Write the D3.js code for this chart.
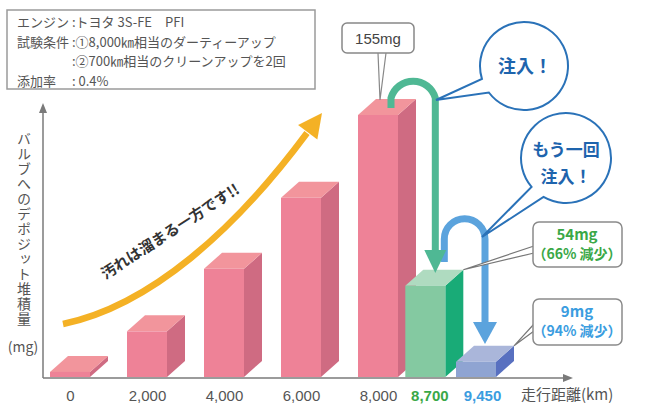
<!DOCTYPE html>
<html><head><meta charset="utf-8">
<script src="https://cdn.jsdelivr.net/npm/d3@7"></script>
<style>
html,body{margin:0;padding:0;background:#fff;}
svg{display:block;font-family:"Noto Sans CJK JP","Noto Sans",sans-serif;}
</style></head>
<body>
<svg id="chart" width="668" height="407"></svg>
<script>
// ---- data ----
const categories = ["0", "2,000", "4,000", "6,000", "8,000", "8,700", "9,450"];
const distanceKm = [0, 2000, 4000, 6000, 8000, 8700, 9450];
const depositMg = [3, 27, 64, 106, 155, 54, 9];
const phases = ["dirty", "dirty", "dirty", "dirty", "dirty", "clean1", "clean2"];
const infoLabels = ["エンジン", "試験条件", "", "添加率"];
const infoValues = [":トヨタ 3S-FE　PFI", ":①8,000㎞相当のダーティーアップ", ":②700㎞相当のクリーンアップを2回", ": 0.4%"];
const yAxisTitle = "バルブへのデポジット堆積量";
const yAxisUnit = "(mg)";
const xAxisTitle = "走行距離(km)";
const peakLabel = "155mg";
const result1 = ["54mg", "（66% 減少）"];
const result2 = ["9mg", "（94% 減少）"];
const bubble1 = ["注入！"];
const bubble2 = ["もう一回", "注入！"];
const trendText = "汚れは溜まる一方です!!";

// ---- styles ----
const faceColors = {
  dirty:  {front: "#ee8297", top: "#f2959c", side: "#cf6b82"},
  clean1: {front: "#84c9a1", top: "#afdbc0", side: "#19ab77"},
  clean2: {front: "#8fa4d2", top: "#aab6da", side: "#5870c0"}
};
const labelColors = {dirty: "#555", clean1: "#3aa847", clean2: "#3b9de0"};

const svg = d3.select("#chart");
const baseY = 377, axisX = 43;
const x = d3.scaleLinear().domain([0, 8000, 9450]).range([70, 378, 476]);
const y = d3.scaleLinear().domain([0, 155]).range([baseY, 115]);
const barW = 40, dx = 18, dy = -16;

const bars = distanceKm.map((km, i) => ({km, v: depositMg[i], phase: phases[i], label: categories[i]}));

// ---- info box ----
const info = svg.append("g");
info.append("rect").attr("x", 7).attr("y", 10).attr("width", 308).attr("height", 79)
  .attr("fill", "#fff").attr("stroke", "#9a9a9a").attr("stroke-width", 1.5);
infoLabels.forEach((t, i) => {
  const yy = 27 + i * 19.5;
  info.append("text").attr("x", 17).attr("y", yy).attr("font-size", 13).attr("fill", "#555").text(t);
  info.append("text").attr("x", 72).attr("y", yy).attr("font-size", 13).attr("fill", "#555").text(infoValues[i]);
});

// ---- axes ----
const axisColor = "#7a7a7a";
const xAxis = d3.axisBottom(x).tickValues(distanceKm).tickSize(0).tickFormat((d, i) => categories[i]);
const gx = svg.append("g").attr("transform", `translate(0,${baseY})`).call(xAxis);
gx.select(".domain").remove();
gx.selectAll(".tick text")
  .attr("y", 13)
  .attr("font-size", 15)
  .attr("font-family", "Liberation Sans, Arial, sans-serif")
  .attr("font-weight", (d, i) => phases[i] === "dirty" ? "normal" : "bold")
  .attr("fill", (d, i) => labelColors[phases[i]])
  .attr("dx", (d, i) => phases[i] === "clean1" ? 4 : phases[i] === "clean2" ? 6 : 0);

svg.append("line").attr("x1", axisX).attr("y1", baseY + 1).attr("x2", 566).attr("y2", baseY + 1)
  .attr("stroke", axisColor).attr("stroke-width", 1.5);
svg.append("path").attr("d", `M573,${baseY + 1} L563,${baseY - 3} L563,${baseY + 5} Z`).attr("fill", axisColor);
svg.append("line").attr("x1", axisX).attr("y1", baseY + 1).attr("x2", axisX).attr("y2", 110)
  .attr("stroke", axisColor).attr("stroke-width", 1.5);
svg.append("path").attr("d", `M${axisX},103 L${axisX - 4},113 L${axisX + 4},113 Z`).attr("fill", axisColor);

svg.append("text").attr("x", 521).attr("y", 400).attr("font-size", 15).attr("fill", "#555").text(xAxisTitle);
svg.append("text").attr("x", 24).attr("y", 132).attr("font-size", 14).attr("fill", "#555")
  .attr("style", "writing-mode: vertical-rl; letter-spacing:1px").text(yAxisTitle);
svg.append("text").attr("x", 23).attr("y", 352).attr("text-anchor", "middle").attr("font-size", 14)
  .attr("fill", "#555").text(yAxisUnit);

// ---- 3D bars ----
const gb = svg.append("g");
bars.forEach(b => {
  const x0 = x(b.km) - barW / 2, yt = y(b.v), c = faceColors[b.phase];
  const g = gb.append("g");
  g.append("path").attr("d", `M${x0 + barW},${yt} L${x0 + barW + dx},${yt + dy} L${x0 + barW + dx},${baseY + dy} L${x0 + barW},${baseY} Z`).attr("fill", c.side);
  g.append("path").attr("d", `M${x0},${yt} L${x0 + barW},${yt} L${x0 + barW + dx},${yt + dy} L${x0 + dx},${yt + dy} Z`).attr("fill", c.top);
  g.append("rect").attr("x", x0).attr("y", yt).attr("width", barW).attr("height", baseY - yt).attr("fill", c.front);
});

// ---- trend arrow ----
const orange = "#f4b125";
svg.append("path").attr("d", "M63,324 C150,306 235,230 307,133")
  .attr("fill", "none").attr("stroke", orange).attr("stroke-width", 6.5);
{
  const tip = [322, 113], ang = Math.atan2(133 - 230, 307 - 235);
  const L = 24, W = 12;
  const bx = tip[0] - L * Math.cos(ang), by = tip[1] - L * Math.sin(ang);
  const px = -Math.sin(ang) * W, py = Math.cos(ang) * W;
  svg.append("path").attr("d", `M${tip[0]},${tip[1]} L${bx + px},${by + py} L${bx - px},${by - py} Z`).attr("fill", orange);
}
svg.append("text").attr("transform", "translate(173,236) rotate(-33)").attr("text-anchor", "middle")
  .attr("font-size", 15).attr("font-weight", 600).attr("fill", "#333").text(trendText);

// ---- peak label ----
const x8000 = x(8000);
svg.append("path").attr("d", `M${x8000},53 L${x8000 + 2},100 L${x8000 + 8},53`)
  .attr("fill", "#fff").attr("stroke", "#888").attr("stroke-width", 1.2);
svg.append("rect").attr("x", 342).attr("y", 23).attr("width", 72).attr("height", 30).attr("rx", 5)
  .attr("fill", "#fff").attr("stroke", "#888").attr("stroke-width", 1.5);
svg.append("text").attr("x", 378).attr("y", 44).attr("text-anchor", "middle").attr("font-size", 15)
  .attr("font-family", "Liberation Sans, Arial, sans-serif").attr("fill", "#444").text(peakLabel);

// ---- injection arrows ----
const blue = "#5ba3dd", green = "#4fb894";
const xc1 = x(8700) + 10, xc2 = x(9450) + 9;
// blue (second injection) underneath
svg.append("path").attr("d", `M${xc1 + 9},262 L${xc1 + 9},239 A19,19 0 0 1 ${xc2},239 L${xc2},324`)
  .attr("fill", "none").attr("stroke", blue).attr("stroke-width", 7);
svg.append("path").attr("d", `M${xc2 - 12},322 L${xc2 + 12},322 L${xc2},344 Z`).attr("fill", blue);
// green (first injection)
svg.append("path").attr("d", `M391,108 L391,98 A23,23 0 0 1 ${xc1},98 L${xc1},252`)
  .attr("fill", "none").attr("stroke", green).attr("stroke-width", 7);
svg.append("path").attr("d", `M${xc1 - 11},250 L${xc1 + 11},250 L${xc1},273 Z`).attr("fill", green);

// ---- speech bubbles ----
function bubble(cx, cy, r, a1, a2, tip) {
  const p = a => [cx + r * Math.cos(a * Math.PI / 180), cy + r * Math.sin(a * Math.PI / 180)];
  const P1 = p(a1), P2 = p(a2);
  svg.append("path").attr("d", `M${tip[0]},${tip[1]} L${P1[0]},${P1[1]} A${r},${r} 0 1 1 ${P2[0]},${P2[1]} Z`)
    .attr("fill", "#fff").attr("stroke", "#2a72b8").attr("stroke-width", 2).attr("stroke-linejoin", "miter");
}
bubble(524, 66, 44, 163, 143, [436, 100]);
svg.append("text").attr("x", 525).attr("y", 73).attr("text-anchor", "middle").attr("font-size", 18)
  .attr("font-weight", "bold").attr("fill", "#1e64ad").text(bubble1[0]);
bubble(566, 158, 45, 140, 120, [482, 237]);
bubble2.forEach((t, i) => svg.append("text").attr("x", 566).attr("y", 156 + i * 27).attr("text-anchor", "middle")
  .attr("font-size", 17).attr("font-weight", "bold").attr("fill", "#1e64ad").text(t));

// ---- result labels ----
function resultBox(bx, by, h, tipPt, a, b, lines, color) {
  svg.append("path").attr("d", `M${bx + 1},${a} L${tipPt[0]},${tipPt[1]} L${bx + 1},${b}`)
    .attr("fill", "#fff").attr("stroke", "#777").attr("stroke-width", 1.2);
  svg.append("rect").attr("x", bx).attr("y", by).attr("width", 89).attr("height", h).attr("rx", 6)
    .attr("fill", "#fff").attr("stroke", "#8a8a8a").attr("stroke-width", 1.5);
  lines.forEach((t, i) => svg.append("text").attr("x", bx + 44).attr("y", by + 18 + i * 19)
    .attr("text-anchor", "middle").attr("font-size", i === 0 ? 15 : 14).attr("font-weight", "bold")
    .attr("fill", color).text(t));
}
resultBox(533, 222, 45, [x(8700) + barW / 2 + dx, y(54) + dy], 246, 253, result1, "#3aa847");
resultBox(533, 299, 46, [x(9450) + barW / 2 + dx, y(9) + dy], 324, 331, result2, "#3b9de0");
</script>
</body></html>
